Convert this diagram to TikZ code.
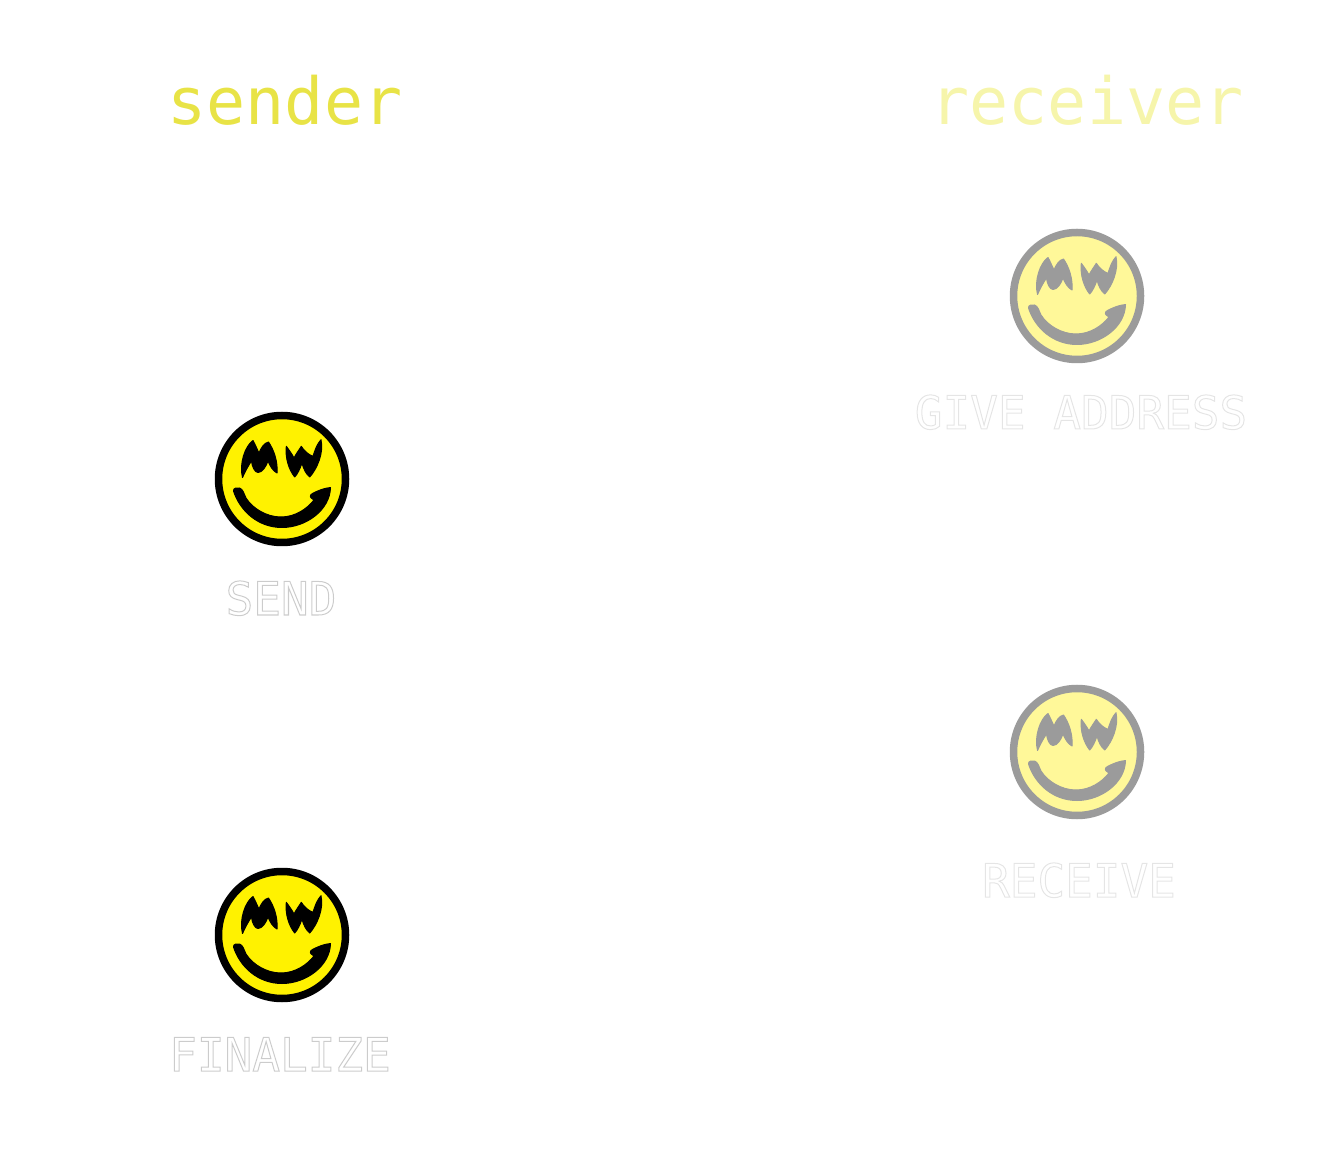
\documentclass[tikz,border=0pt]{standalone}
\usepackage{fontspec}
\usepackage{xcolor}
\setmonofont{DejaVu Sans Mono}
\usetikzlibrary{positioning}

% hollow letters: stroke only, grey level as argument
\newcommand{\hollow}[2]{\special{pdf:code q 1 Tr 1 w #1 G}#2\special{pdf:code Q}}

\definecolor{senderyellow}{HTML}{E8E346}
\definecolor{receiveryellow}{HTML}{F6F5AB}
\definecolor{faceyellow}{HTML}{FFF200}
\definecolor{fadeyellow}{HTML}{FFF899}
\definecolor{fadegrey}{HTML}{9B9B9B}

\tikzset{
  pics/mwface/.style 2 args={code={
    \draw[fill=#2, draw=#1, line width=7.5pt] (0,0) circle (63.5);
    \begin{scope}[fill=#1, draw=#1, line width=1pt, line join=round]
    % left eye
    \filldraw (-39.5,1.5) .. controls (-43,15) and (-37,33) .. (-29,38.5)
      .. controls (-27,35) and (-25,30) .. (-23,26)
      .. controls (-21,31) and (-18,36) .. (-13.5,37)
      .. controls (-8,29) and (-4,17) .. (-5,6)
      .. controls (-9,8) and (-12,13) .. (-14,18)
      .. controls (-16,12) and (-20,6.5) .. (-24,6.5)
      .. controls (-27,6.5) and (-30,12) .. (-30.5,18)
      .. controls (-34,13) and (-37,7) .. (-39.5,1.5) -- cycle;
    % right eye
    \filldraw (4.3,32.7) .. controls (3,21) and (7,9) .. (12.7,2)
      .. controls (15.5,5) and (18,10) .. (20,16)
      .. controls (21.5,10) and (24,5) .. (27.7,2)
      .. controls (35,10) and (42,26) .. (39,39.3)
      .. controls (35,35) and (33,29) .. (31,22.7)
      .. controls (27,24) and (22,28) .. (19.3,32.7)
      .. controls (17,29) and (14,25) .. (12,21)
      .. controls (10,25) and (7,29) .. (4.3,32.7) -- cycle;
    % smile
    \filldraw (-48.5,-12) .. controls (-49,-9) and (-45,-8.5) .. (-42.5,-9)
      .. controls (-39,-10) and (-38,-15) .. (-36,-19)
      .. controls (-29,-30) and (-15,-38) .. (-1,-38)
      .. controls (13,-38) and (25,-30) .. (32,-21)
      .. controls (30,-20) and (27,-18) .. (29,-15.5)
      .. controls (34,-12) and (43,-9) .. (48.5,-8.5)
      .. controls (48,-31) and (24,-48.5) .. (0,-48.5)
      .. controls (-24,-48.5) and (-42,-32) .. (-48.5,-12) -- cycle;
    \end{scope}
  }},
  side label/.style={font=\ttfamily\fontsize{65}{65}\selectfont, anchor=base, inner sep=0pt},
  step label/.style={font=\ttfamily\fontsize{46}{46}\selectfont, anchor=base, inner sep=0pt}
}

\begin{document}
\begin{tikzpicture}[x=1pt,y=1pt]
  \useasboundingbox (0,0) rectangle (1332,1168);

  \node[side label, text=senderyellow] (sender) at (285,1043) {sender};
  \node[side label, text=receiveryellow] (receiver) at (1087,1043) {receiver};

  \pic (giveface) at (1077,872) {mwface={fadegrey}{fadeyellow}};
  \pic (sendface) at (282,689) {mwface={black}{faceyellow}};
  \pic (receiveface) at (1077,416) {mwface={fadegrey}{fadeyellow}};
  \pic (finalizeface) at (282,233) {mwface={black}{faceyellow}};

  \node[step label] (give) at (1081,739) {\hollow{0.9}{GIVE ADDRESS}};
  \node[step label] (send) at (281,553) {\hollow{0.8}{SEND}};
  \node[step label] (receive) at (1079,271) {\hollow{0.9}{RECEIVE}};
  \node[step label] (finalize) at (280,97) {\hollow{0.8}{FINALIZE}};
\end{tikzpicture}
\end{document}
